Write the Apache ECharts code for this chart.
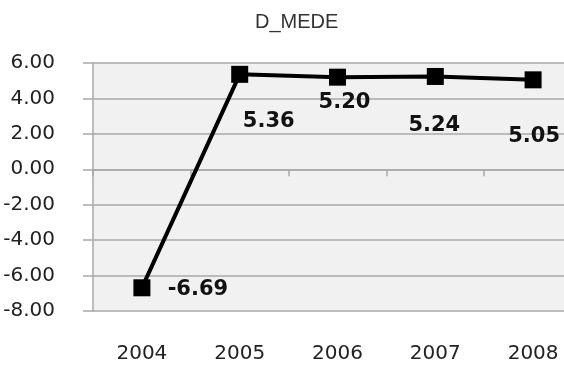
<!DOCTYPE html>
<html>
<head>
<meta charset="utf-8">
<script src="https://cdn.jsdelivr.net/npm/echarts@6/dist/echarts.min.js"></script>
<style>
html,body{margin:0;padding:0;background:#fff;overflow:hidden;}
#chart{width:564px;height:365px;}
</style>
</head>
<body>
<div id="chart"></div>
<script>
const chartTitle = 'D_MEDE';
const categories = ['2004', '2005', '2006', '2007', '2008'];
const values = [-6.69, 5.36, 5.20, 5.24, 5.05];
const yTicks = { min: -8, max: 6, interval: 2 };

// label placement (style only)
const labelOffsets = [[56, 2], [29, 47], [7, 25], [-1, 49], [1, 57]];

const gridColor = '#a9a9a9';
const chart = echarts.init(document.getElementById('chart'));
chart.setOption({
  animation: false,
  backgroundColor: '#ffffff',
  title: {
    text: chartTitle,
    left: 250, top: 7,
    textStyle: { fontFamily: 'Liberation Sans', fontSize: 20, fontWeight: 'normal', color: '#333' }
  },
  grid: { left: 93, top: 63, bottom: 54, right: -18, outerBoundsMode: 'none', containLabel: false,
    show: true, backgroundColor: '#f1f1f1', borderWidth: 0 },
  xAxis: [
    {
      type: 'category', data: categories, boundaryGap: true,
      axisLine: { onZero: true, lineStyle: { color: gridColor, width: 1.5 } },
      axisTick: { show: true, inside: false, length: 7, lineStyle: { color: gridColor, width: 1.5 } },
      axisLabel: { show: false },
      splitLine: { show: false }
    },
    {
      type: 'category', data: categories, boundaryGap: true, position: 'bottom',
      axisLine: { show: false, onZero: false },
      axisTick: { show: false },
      axisLabel: { margin: 33, fontFamily: 'DejaVu Sans', fontSize: 20, color: '#222' },
      splitLine: { show: false }
    }
  ],
  yAxis: {
    type: 'value', min: yTicks.min, max: yTicks.max, interval: yTicks.interval,
    axisLine: { show: true, lineStyle: { color: gridColor, width: 1.5 } },
    axisTick: { show: true, length: 10, lineStyle: { color: gridColor, width: 1.5 } },
    axisLabel: { margin: 38, fontFamily: 'DejaVu Sans', fontSize: 20, color: '#222',
      formatter: v => v.toFixed(2) },
    splitLine: { show: true, lineStyle: { color: gridColor, width: 1.5 } }
  },
  series: [{
    type: 'line',
    xAxisIndex: 0,
    data: values.map((v, i) => ({
      value: v,
      label: { offset: labelOffsets[i] }
    })),
    symbol: 'rect', symbolSize: 17,
    lineStyle: { color: '#000', width: 4 },
    itemStyle: { color: '#000' },
    label: {
      show: true, position: 'inside',
      fontFamily: 'DejaVu Sans', fontWeight: 'bold', fontSize: 21, color: '#111',
      formatter: p => p.value.toFixed(2)
    }
  }]
});
</script>
</body>
</html>
